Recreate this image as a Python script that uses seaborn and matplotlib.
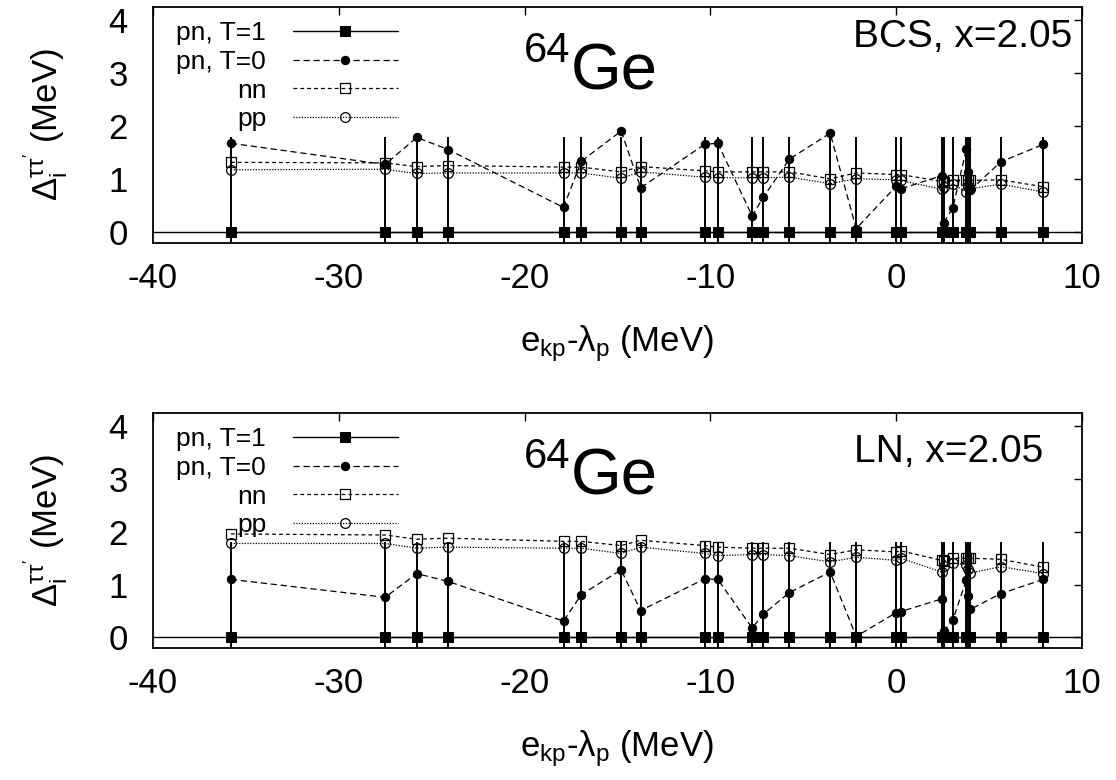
import seaborn as sns
import matplotlib
matplotlib.use('Agg')
import matplotlib.pyplot as plt

# single-particle energies e_kp - lambda_p (MeV)
energies = [-35.8, -27.5, -25.8, -24.1, -17.9, -16.95, -14.8, -13.75, -10.3, -9.6,
            -7.75, -7.15, -5.75, -3.55, -2.15, 0.0, 0.25, 2.45, 2.55, 3.05,
            3.78, 3.88, 3.98, 5.63, 7.93]

# BCS panel
bcs_pn_t1 = [0.0] * 25
bcs_pn_t0 = [1.68, 1.28, 1.79, 1.56, 0.47, 1.34, 1.91, 0.84, 1.66, 1.68,
             0.31, 0.66, 1.38, 1.87, 0.07, 0.87, 0.82, 1.07, 0.18, 0.46,
             1.58, 1.13, 0.79, 1.33, 1.66]
bcs_nn = [1.32, 1.31, 1.24, 1.26, 1.23, 1.23, 1.14, 1.24, 1.16, 1.14,
          1.14, 1.14, 1.14, 1.01, 1.12, 1.09, 1.09, 0.96, 0.95, 0.98,
          0.98, 0.98, 0.98, 0.99, 0.86]
bcs_pp = [1.18, 1.19, 1.11, 1.12, 1.12, 1.12, 1.02, 1.14, 1.04, 1.03,
          1.03, 1.03, 1.04, 0.92, 1.01, 0.99, 0.98, 0.81, 0.86, 0.91,
          0.76, 0.87, 0.82, 0.91, 0.76]

# LN panel
ln_pn_t1 = [0.0] * 25
ln_pn_t0 = [1.10, 0.76, 1.21, 1.06, 0.31, 0.81, 1.28, 0.51, 1.11, 1.10,
            0.18, 0.44, 0.85, 1.24, 0.02, 0.47, 0.49, 0.73, 0.12, 0.33,
            1.09, 0.79, 0.53, 0.83, 1.10]
ln_nn = [1.96, 1.94, 1.86, 1.88, 1.82, 1.82, 1.74, 1.84, 1.74, 1.71,
         1.69, 1.69, 1.69, 1.57, 1.66, 1.62, 1.64, 1.46, 1.45, 1.50,
         1.50, 1.50, 1.50, 1.48, 1.33]
ln_pp = [1.78, 1.78, 1.69, 1.71, 1.69, 1.69, 1.59, 1.71, 1.59, 1.55,
         1.57, 1.57, 1.55, 1.43, 1.52, 1.46, 1.50, 1.24, 1.35, 1.41,
         1.38, 1.30, 1.22, 1.34, 1.21]

bar_half = 1.8  # half-height of the pn T=1 error bars

sns.set_theme(style='white')
plt.rcParams['font.family'] = ['Liberation Sans', 'DejaVu Sans']
plt.rcParams['text.color'] = 'black'
plt.rcParams['axes.labelcolor'] = 'black'
plt.rcParams['axes.unicode_minus'] = False
plt.rcParams['mathtext.fontset'] = 'custom'
plt.rcParams['mathtext.rm'] = 'Liberation Sans'
plt.rcParams['mathtext.it'] = 'Liberation Sans'
plt.rcParams['mathtext.sf'] = 'Liberation Sans'

fig = plt.figure(figsize=(11.16, 7.8), dpi=100)
ax_top = fig.add_axes([0.137, 0.6885, 0.8325, 0.3026])
ax_bot = fig.add_axes([0.137, 0.1692, 0.8325, 0.3013])


def draw_panel(ax, t1, t0, nn, pp, tag, tag_xy):
    ax.axhline(0, color='black', lw=1)
    ax.errorbar(energies, t1, yerr=bar_half, fmt='none', ecolor='black',
                elinewidth=1.4, capsize=0)
    sns.lineplot(x=energies, y=t1, ax=ax, color='black', lw=1, marker='s',
                 markersize=7, markeredgecolor='black', markerfacecolor='black',
                 label='pn, T=1')
    sns.lineplot(x=energies, y=t0, ax=ax, color='black', lw=0.9, marker='o',
                 markersize=6, markeredgecolor='black', markerfacecolor='black',
                 dashes=(5, 3), label='pn, T=0')
    sns.lineplot(x=energies, y=nn, ax=ax, color='black', lw=0.9, marker='s',
                 markersize=7, markeredgecolor='black', markerfacecolor='none',
                 markeredgewidth=0.9, dashes=(3, 2.5), label='nn')
    sns.lineplot(x=energies, y=pp, ax=ax, color='black', lw=0.9, marker='o',
                 markersize=7, markeredgecolor='black', markerfacecolor='none',
                 markeredgewidth=0.9, dashes=(1, 1.2), label='pp')

    ax.set_xlim(-40, 10)
    ax.set_ylim(-0.2, 4.25)
    ax.set_xticks([-40, -30, -20, -10, 0, 10])
    ax.set_yticks([0, 1, 2, 3, 4])
    ax.tick_params(direction='in', length=6, width=1, top=True, right=True,
                   labelsize=25, color='black', labelcolor='black')
    ax.tick_params(axis='x', pad=14)
    ax.tick_params(axis='y', pad=18)
    for sp in ax.spines.values():
        sp.set_color('black')
        sp.set_linewidth(1.3)

    ax.set_xlabel(r'e$_{\rm kp}$-$\lambda_{\rm p}$ (MeV)', fontsize=25,
                  labelpad=20)
    ax.set_ylabel(r"$\Delta_{\rm i}^{\tau\tau'}$ (MeV)", fontsize=25,
                  labelpad=28)

    ax.legend(loc='upper right', bbox_to_anchor=(0.264, 0.94), frameon=False,
              markerfirst=False, fontsize=19, handlelength=4.0,
              handletextpad=1.0, labelspacing=0.18, borderpad=0,
              borderaxespad=0)

    ax.text(0.449, 0.766, '64', transform=ax.transAxes, fontsize=30,
            ha='right', va='baseline')
    ax.text(0.450, 0.652, 'Ge', transform=ax.transAxes, fontsize=47,
            ha='left', va='baseline')
    ax.text(tag_xy[0], tag_xy[1], tag, transform=ax.transAxes, fontsize=28,
            ha='right', va='baseline')


draw_panel(ax_top, bcs_pn_t1, bcs_pn_t0, bcs_nn, bcs_pp, 'BCS, x=2.05', (0.99, 0.831))
draw_panel(ax_bot, ln_pn_t1, ln_pn_t0, ln_nn, ln_pp, 'LN, x=2.05', (0.958, 0.791))

fig.savefig('out.png', dpi=100)
